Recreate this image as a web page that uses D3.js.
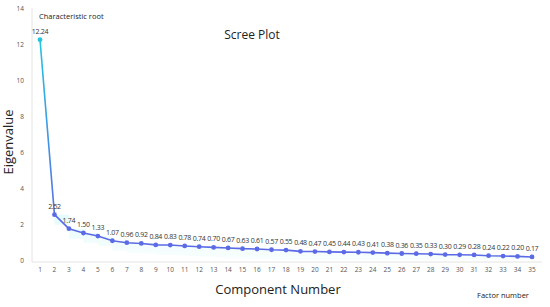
<!DOCTYPE html>
<html>
<head>
<meta charset="utf-8">
<script src="https://cdn.jsdelivr.net/npm/d3@7"></script>
<style>
body { margin: 0; background: #fff; }
svg text { font-family: "Open Sans", "Noto Sans", sans-serif; }
svg text.val { letter-spacing: -0.3px; }
</style>
</head>
<body>
<div id="chart"></div>
<script>
var components = d3.range(1, 36);
var eigenvalues = [12.24, 2.52, 1.74, 1.50, 1.33, 1.07, 0.96, 0.92, 0.84, 0.83, 0.78, 0.74, 0.70, 0.67,
    0.63, 0.61, 0.57, 0.55, 0.48, 0.47, 0.45, 0.44, 0.43, 0.41, 0.38, 0.36, 0.35, 0.33, 0.30,
    0.29, 0.28, 0.24, 0.22, 0.20, 0.17];
var yTicks = [0, 2, 4, 6, 8, 10, 12, 14];

var width = 550, height = 307;
var data = components.map(function (c, i) {
    return { comp: c, value: eigenvalues[i] };
});

var svg = d3.select("#chart").append("svg")
    .attr("width", width)
    .attr("height", height);

var x = d3.scalePoint()
    .domain(components)
    .range([40, 532]);

var y = d3.scaleLinear()
    .domain([0, 14])
    .range([260, 8]);

var defs = svg.append("defs");
var lineGrad = defs.append("linearGradient")
    .attr("id", "lineGrad")
    .attr("gradientUnits", "userSpaceOnUse")
    .attr("x1", 0).attr("y1", y(12.24))
    .attr("x2", 0).attr("y2", y(2));
lineGrad.append("stop").attr("offset", "0%").attr("stop-color", "#22c6e0");
lineGrad.append("stop").attr("offset", "100%").attr("stop-color", "#5b6be6");

var areaGrad = defs.append("linearGradient")
    .attr("id", "areaGrad")
    .attr("x1", 0).attr("y1", 0).attr("x2", 0).attr("y2", 1);
areaGrad.append("stop").attr("offset", "0%").attr("stop-color", "#d2f8f9").attr("stop-opacity", 0.6);
areaGrad.append("stop").attr("offset", "100%").attr("stop-color", "#eefcfc").attr("stop-opacity", 0.4);

// y axis line
svg.append("line")
    .attr("x1", 32).attr("x2", 32)
    .attr("y1", y(14)).attr("y2", y(0) + 2)
    .attr("stroke", "#e4e4e4");

// x axis line
svg.append("line")
    .attr("x1", 32).attr("x2", 542)
    .attr("y1", y(0) + 2).attr("y2", y(0) + 2)
    .attr("stroke", "#e4e4e4");

svg.selectAll(".ytick")
    .data(yTicks)
    .enter()
    .append("text")
    .attr("class", "ytick")
    .attr("x", 24)
    .attr("y", function (d) { return y(d) + 2.5; })
    .attr("text-anchor", "end")
    .attr("font-size", 6.5)
    .attr("fill", "#555")
    .text(function (d) { return d; });

svg.selectAll(".xtick")
    .data(components)
    .enter()
    .append("text")
    .attr("class", "xtick")
    .attr("x", function (d) { return x(d); })
    .attr("y", 272)
    .attr("text-anchor", "middle")
    .attr("font-size", 6.5)
    .attr("fill", "#555")
    .text(function (d) { return d; });

// shaded band under the line
var area = d3.area()
    .x(function (d) { return x(d.comp); })
    .y0(function (d) { return Math.min(y(0), y(d.value) + 10); })
    .y1(function (d) { return y(d.value); })
    .curve(d3.curveStepAfter);

svg.append("path")
    .datum(data.slice(1))
    .attr("d", area)
    .attr("fill", "url(#areaGrad)");

var line = d3.line()
    .x(function (d) { return x(d.comp); })
    .y(function (d) { return y(d.value); });

svg.append("path")
    .datum(data)
    .attr("d", line)
    .attr("fill", "none")
    .attr("stroke", "url(#lineGrad)")
    .attr("stroke-width", 1.6);

svg.selectAll(".pt")
    .data(data)
    .enter()
    .append("circle")
    .attr("class", "pt")
    .attr("cx", function (d) { return x(d.comp); })
    .attr("cy", function (d) { return y(d.value); })
    .attr("r", 2.4)
    .attr("fill", function (d, i) { return i == 0 ? "#22c6e0" : "#5b6be6"; });

svg.selectAll(".val")
    .data(data)
    .enter()
    .append("text")
    .attr("class", "val")
    .attr("x", function (d) { return x(d.comp); })
    .attr("y", function (d) { return y(d.value) - 6; })
    .attr("text-anchor", "middle")
    .attr("font-size", 7)
    .attr("fill", "#333")
    .text(function (d) { return d.value.toFixed(2); });

svg.append("text")
    .attr("x", 252).attr("y", 39)
    .attr("text-anchor", "middle")
    .attr("font-size", 12)
    .attr("fill", "#222")
    .text("Scree Plot");

svg.append("text")
    .attr("x", 39).attr("y", 19)
    .attr("font-size", 7.5)
    .attr("fill", "#222")
    .text("Characteristic root");

svg.append("text")
    .attr("transform", "translate(13,142) rotate(-90)")
    .attr("text-anchor", "middle")
    .attr("font-size", 13)
    .attr("fill", "#222")
    .text("Eigenvalue");

svg.append("text")
    .attr("x", 278).attr("y", 294)
    .attr("text-anchor", "middle")
    .attr("font-size", 13)
    .attr("fill", "#222")
    .text("Component Number");

svg.append("text")
    .attr("x", 503).attr("y", 298)
    .attr("text-anchor", "middle")
    .attr("font-size", 7.5)
    .attr("fill", "#222")
    .text("Factor number");
</script>
</body>
</html>
